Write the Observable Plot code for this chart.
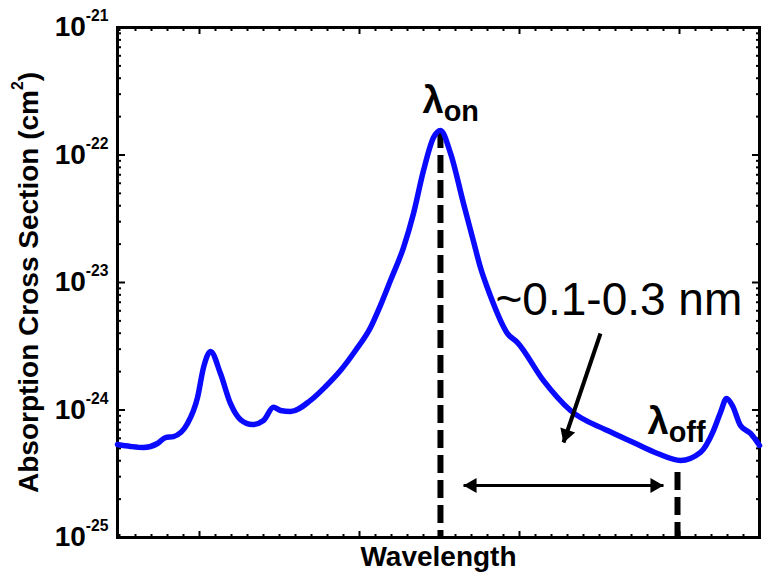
<!DOCTYPE html>
<html><head><meta charset="utf-8">
<script src="https://cdn.jsdelivr.net/npm/d3@7"></script>
<script src="https://cdn.jsdelivr.net/npm/@observablehq/plot@0.6"></script>
<style>
html,body{margin:0;padding:0;background:#fff;}
</style>
</head><body><div id="chart"></div>
<script>
// Spectrum (arbitrary wavelength units; cross section in cm^2)
const wavelength = [0.4875, 0.569, 0.65, 0.7375, 0.7875, 0.8375, 0.925, 0.9875, 1.025, 1.069, 1.131, 1.194, 1.256, 1.331, 1.4, 1.4625, 1.506, 1.569, 1.694, 1.788, 1.881, 1.975, 2.069, 2.131, 2.194, 2.275, 2.3375, 2.4, 2.4625, 2.506, 2.569, 2.65, 2.7125, 2.756, 2.8125, 2.925, 2.9875, 3.15, 3.319, 3.55, 3.7125, 3.8625, 4.006, 4.131, 4.2125, 4.256, 4.294, 4.331, 4.381, 4.444, 4.5];
const crossSection = [5.36e-25, 5.18e-25, 5.08e-25, 5.46e-25, 6.08e-25, 6.19e-25, 7.83e-25, 1.25e-24, 2.15e-24, 2.88e-24, 1.93e-24, 1.12e-24, 8.41e-25, 7.69e-25, 8.28e-25, 1.05e-24, 9.91e-25, 9.72e-25, 1.19e-24, 1.53e-24, 2.04e-24, 2.93e-24, 4.44e-24, 6.61e-24, 1.04e-23, 1.88e-23, 3.48e-23, 7.55e-23, 1.37e-22, 1.56e-22, 1.03e-22, 4.17e-23, 2.10e-23, 1.31e-23, 8.2e-24, 3.98e-24, 3.38e-24, 1.70e-24, 9.91e-25, 6.90e-25, 5.56e-25, 4.56e-25, 4.02e-25, 4.65e-25, 6.90e-25, 9.55e-25, 1.23e-24, 1.08e-24, 7.55e-25, 6.55e-25, 5.27e-25];

// Axis ticks
const xMajorTicks = [1, 2, 3, 4];
const yDecadeTicks = [1e-25, 1e-24, 1e-23, 1e-22, 1e-21];
const xLabel = "Wavelength";
const yLabel = "Absorption Cross Section (cm^{2})";

// Annotations
const markerLabels = ["λ_{on}", "λ_{off}"];
const markerX = [2.506, 3.9875];
const markerTop = [1.56e-22, 3.23e-25];
const markerLabelX = [2.394, 3.8];
const markerLabelY = [2.68e-22, 8.13e-25];
const rangeLabel = ["~0.1-0.3 nm"];
const rangeLabelX = [2.85];
const rangeLabelY = [7.23e-24];
const spanX = [2.65, 3.9];
const spanY = [2.56e-25];
const pointerFrom = [3.506, 3.98e-24];
const pointerTo = [3.275, 5.56e-25];

const spectrum = wavelength.map((w, i) => ({w, s: crossSection[i]}));
const markers = markerLabels.map((t, i) => ({t, x: markerX[i], top: markerTop[i], lx: markerLabelX[i], ly: markerLabelY[i]}));
const xMinorTicks = d3.range(5, 46).map(i => i / 10).filter(v => !xMajorTicks.includes(v));
const yMinorTicks = [];
for (const d of yDecadeTicks.slice(0, -1)) for (let k = 2; k <= 9; k++) yMinorTicks.push(k * d);
const span = [{x1: spanX[0], x2: spanX[1], y: spanY[0]}];
const spanHeads = [{x: spanX[0], y: spanY[0]}, {x: spanX[1], y: spanY[0]}];
const pointer = [{x1: pointerFrom[0], y1: pointerFrom[1], x2: pointerTo[0], y2: pointerTo[1]}];

const empty = () => "";
const chart = Plot.plot({
  width: 763, height: 581,
  marginLeft: 117, marginRight: 4, marginTop: 27, marginBottom: 44,
  style: {fontFamily: "'Liberation Sans', Arial, sans-serif", background: "white", color: "black"},
  x: {domain: [0.4875, 4.5], label: null},
  y: {type: "log", domain: [1e-25, 1e-21], label: null},
  marks: [
    // inward ticks on all four sides
    Plot.axisX(xMajorTicks, {anchor: "bottom", tickSize: -6, tickFormat: empty, label: null, strokeWidth: 2}),
    Plot.axisX(xMinorTicks, {anchor: "bottom", tickSize: -3, tickFormat: empty, label: null, strokeWidth: 2}),
    Plot.axisX(xMajorTicks, {anchor: "top", tickSize: -6, tickFormat: empty, label: null, strokeWidth: 2}),
    Plot.axisX(xMinorTicks, {anchor: "top", tickSize: -3, tickFormat: empty, label: null, strokeWidth: 2}),
    Plot.axisY(yDecadeTicks, {anchor: "left", tickSize: -8, tickFormat: empty, label: null, strokeWidth: 2}),
    Plot.axisY(yMinorTicks, {anchor: "left", tickSize: -4, tickFormat: empty, label: null, strokeWidth: 2}),
    Plot.axisY(yDecadeTicks, {anchor: "right", tickSize: -8, tickFormat: empty, label: null, strokeWidth: 2}),
    Plot.axisY(yMinorTicks, {anchor: "right", tickSize: -4, tickFormat: empty, label: null, strokeWidth: 2}),
    // tick labels
    Plot.axisY(yDecadeTicks, {anchor: "left", tickSize: 0, tickPadding: 9, fontSize: 28, fontWeight: "bold", label: null,
      tickFormat: d => `10^{${Math.round(Math.log10(d))}}`}),
    Plot.frame({stroke: "black", strokeWidth: 3}),
    // dashed marker lines
    Plot.ruleX(markers, {x: "x", y1: "top", y2: 1e-25, stroke: "black", strokeWidth: 6, strokeDasharray: "18,7"}),
    // spectrum
    Plot.line(spectrum, {x: "w", y: "s", stroke: "#0a0aff", strokeWidth: 5.5, curve: "monotone-x"}),
    // double arrow
    Plot.link(span, {x1: "x1", x2: "x2", y1: "y", y2: "y", stroke: "black", strokeWidth: 3}),
    Plot.dot(spanHeads.slice(0, 1), {x: "x", y: "y", symbol: "triangle", r: 5.6, fill: "black", rotate: -90, dx: 8.7}),
    Plot.dot(spanHeads.slice(1), {x: "x", y: "y", symbol: "triangle", r: 5.6, fill: "black", rotate: 90, dx: -8.7}),
    // pointer arrow
    Plot.link(pointer, {x1: "x1", y1: "y1", x2: "x2", y2: "y2", stroke: "black", strokeWidth: 4}),
    Plot.dot(pointer, {x: "x2", y: "y2", symbol: "triangle", r: 5.8, fill: "black", rotate: 198.7, dx: 2.8, dy: -8.2}),
    // labels
    Plot.text(markers, {x: "lx", y: "ly", text: "t", textAnchor: "start", fontSize: 38, fontWeight: "bold"}),
    Plot.text(rangeLabel.map((t, i) => ({t, x: rangeLabelX[i], y: rangeLabelY[i]})), {x: "x", y: "y", text: "t", textAnchor: "start", fontSize: 46}),
    Plot.text([xLabel], {text: d => d, frameAnchor: "bottom", textAnchor: "middle", dy: 28, fontSize: 28, fontWeight: "bold"}),
    Plot.text([yLabel], {text: d => d, frameAnchor: "left", textAnchor: "middle", rotate: -90, dx: -88, fontSize: 28, fontWeight: "bold"})
  ]
});
document.getElementById("chart").appendChild(chart);

// Tick labels: force size/weight
chart.querySelectorAll("text").forEach(el => {
  if (/^10\^\{/.test(el.textContent)) {
    el.style.fontSize = "28px";
    el.style.fontWeight = "bold";
  }
});

// Turn ^{...} and _{...} into superscript / subscript tspans
function richText(root) {
  const ns = "http://www.w3.org/2000/svg";
  root.querySelectorAll("text").forEach(el => {
    const s = el.textContent;
    if (!/[\^_]\{/.test(s)) return;
    const base = parseFloat(getComputedStyle(el).fontSize) || 16;
    el.textContent = "";
    const add = (txt, size, dy) => {
      const t = document.createElementNS(ns, "tspan");
      t.setAttribute("font-size", size);
      t.style.fontSize = size + "px";
      if (dy) t.setAttribute("dy", dy);
      t.textContent = txt;
      el.appendChild(t);
    };
    const re = /([\^_])\{([^}]*)\}/g;
    let last = 0, m, shift = 0;
    while ((m = re.exec(s))) {
      if (m.index > last) { add(s.slice(last, m.index), base, -shift); shift = 0; }
      const sup = m[1] === "^";
      const d = sup ? -0.55 * base : 0.22 * base;
      add(m[2], (sup ? 0.56 : 0.76) * base, d - shift);
      shift = d;
      last = re.lastIndex;
    }
    if (last < s.length) add(s.slice(last), base, -shift);
  });
}
richText(chart);
</script>
</body></html>
